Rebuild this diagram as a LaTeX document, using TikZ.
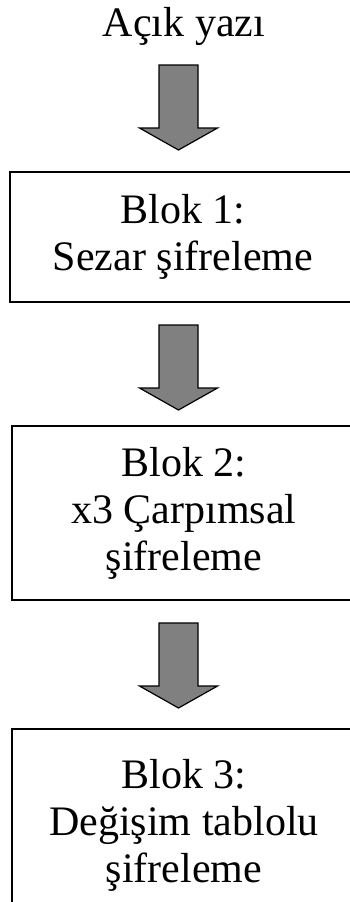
\documentclass[tikz,border=0pt]{standalone}
\usepackage{fontspec}
\setmainfont{Liberation Serif}
\begin{document}
\begin{tikzpicture}[x=1pt,y=-1pt,
  txt/.style={font=\fontsize{42}{47}\selectfont, align=center, inner sep=0pt},
  blockbox/.style={txt, draw=black, line width=1.3pt, fill=white},
  arrowfill/.style={draw=black, line width=1.2pt, fill=black!50, line join=miter},
  blockarrow/.pic={\path[arrowfill] (-19.5,0) -- (19.5,0) -- (19.5,63) -- (39,63) -- (0,85) -- (-39,63) -- (-19.5,63) -- cycle;}]
\useasboundingbox (0,0) rectangle (350,902);
\clip (0,0) rectangle (350,902);
\fill[white] (0,0) rectangle (350,902);
\node[txt, anchor=base] (title) at (184,36) {Açık yazı};
\node[blockbox, minimum width=346pt, minimum height=130pt] (b1) at (183,237) {Blok 1:\\Sezar şifreleme};
\node[blockbox, minimum width=344pt, minimum height=174pt] (b2) at (184,513) {Blok 2:\\x3 Çarpımsal\\şifreleme};
\node[blockbox, minimum width=344pt, minimum height=192pt] (b3) at (184,825) {Blok 3:\\Değişim tablolu\\şifreleme};
\pic at (178.5,65) {blockarrow};
\pic at (178.5,325) {blockarrow};
\pic at (178.5,623) {blockarrow};
\end{tikzpicture}
\end{document}
